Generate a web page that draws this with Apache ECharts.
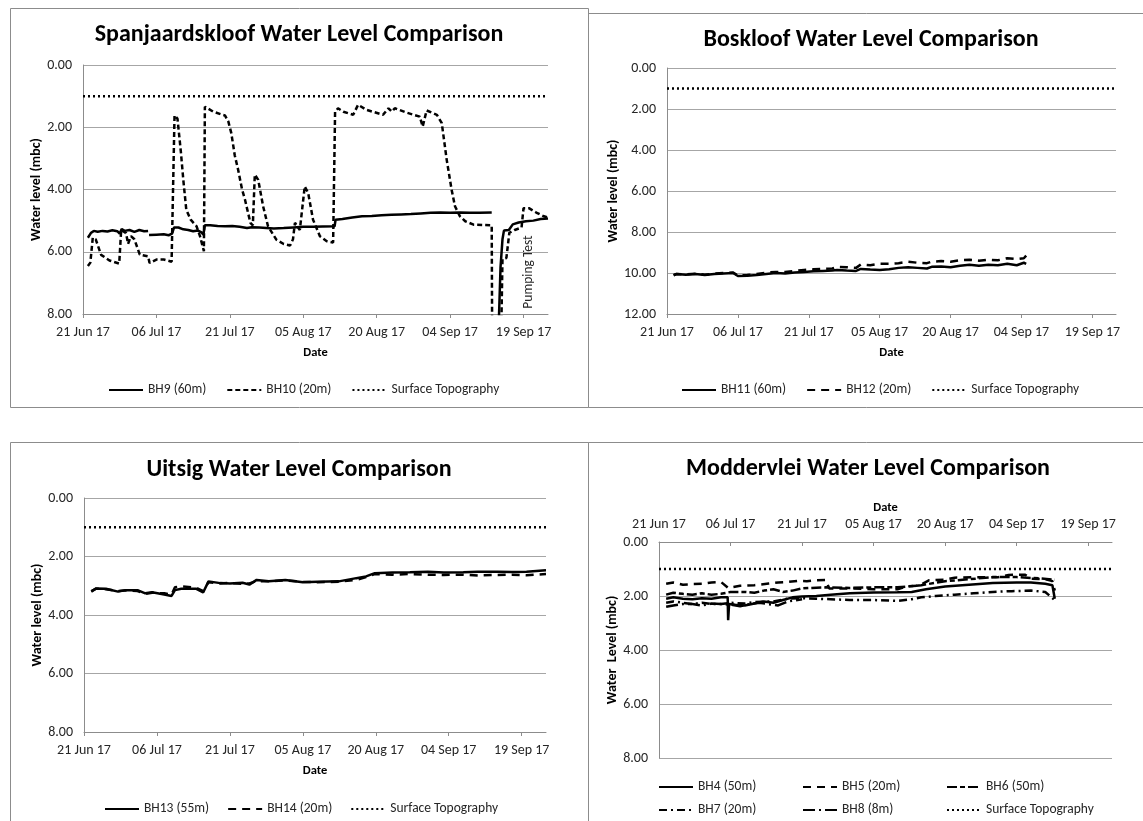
<!DOCTYPE html>
<html><head><meta charset="utf-8">
<script src="https://cdn.jsdelivr.net/npm/echarts@6/dist/echarts.min.js"></script>
<style>html,body{margin:0;padding:0;background:#fff}#c{width:1143px;height:821px}</style>
</head><body><div id="c"></div><script>
// ---------- shared axis data ----------
const tickLabels = ['21 Jun 17','06 Jul 17','21 Jul 17','05 Aug 17','20 Aug 17','04 Sep 17','19 Sep 17'];
const tickDays = [0,15,30,45,60,75,90];   // days since 21 Jun 17
const surfaceDays = [0, 95];
const surfaceLevel = [1.0, 1.0];

// ---------- Spanjaardskloof ----------
const bh9Days = [1.0,1.6,2.2,3.0,4.0,5.0,6.0,7.0,7.5,7.9,8.5,9.5,10.5,11.5,12.5,13.3,13.4,13.5,15,16.5,17.5,18.2,18.6,19.5,20.5,21.5,22.5,23.5,24.2,24.6,24.9,26,27.5,29,30.5,32,33.5,34.5,36,37.5,39,41,43,45,47,49,51.4,51.6,53,55,57,59,61,63,65,67,69,71,73,75,77,79,81,83.5,84,84.8,85.3,85.7,86.0,87.0,87.8,89,90.5,92,93.5,95];
const bh9Vals = [5.55,5.40,5.33,5.36,5.33,5.35,5.31,5.34,5.42,5.27,5.33,5.30,5.36,5.30,5.34,5.33,null,5.46,5.45,5.44,5.47,5.42,5.22,5.22,5.28,5.30,5.34,5.32,5.38,5.45,5.15,5.15,5.17,5.18,5.17,5.20,5.24,5.21,5.22,5.24,5.25,5.24,5.22,5.20,5.20,5.19,5.18,4.97,4.95,4.90,4.86,4.85,4.83,4.81,4.80,4.79,4.77,4.75,4.74,4.75,4.74,4.75,4.75,4.74,null,9.0,6.5,5.6,5.32,5.30,5.12,5.06,5.02,5.00,4.95,4.93];
const bh10Days = [1.0,1.5,2.0,2.6,3.7,5.4,7.4,7.8,8.8,9.2,9.8,10.5,11.6,13.3,13.6,15,16.5,18.1,18.7,19.3,20.0,20.5,21.1,22.0,22.4,23.2,23.9,24.7,24.9,26.6,28.5,29.0,29.7,30.3,31.0,31.7,32.5,33.1,34.2,34.7,35.1,35.8,36.8,37.8,39.5,41,42.3,42.9,43.3,44.3,45.3,46.0,47.0,48.4,49.8,51.1,51.4,51.5,52.1,53.2,55.2,56.2,57.9,61.3,62.4,63.1,63.7,66.1,68.8,69.4,70.2,72.3,73.3,74.3,75.3,76.0,77.0,78.1,79.8,83.5,83.6,85.4,85.7,86.5,87.1,88.2,89.6,90.0,91.1,92.6,94,95];
const bh10Vals = [6.46,6.35,5.55,5.60,6.10,6.28,6.38,5.30,5.40,5.75,5.50,5.60,6.09,6.15,6.36,6.25,6.25,6.32,1.62,1.72,2.80,3.70,4.65,4.97,4.95,5.18,5.50,5.98,1.34,1.50,1.60,1.62,1.82,2.19,2.90,3.37,4.00,4.33,5.07,5.15,3.52,3.69,4.54,5.18,5.61,5.75,5.80,5.60,5.07,5.30,3.90,4.11,4.97,5.50,5.66,5.70,5.70,1.50,1.39,1.50,1.60,1.28,1.44,1.60,1.39,1.50,1.39,1.53,1.66,1.98,1.46,1.60,1.87,3.04,4.00,4.54,4.86,5.02,5.13,5.15,9.0,9.0,6.24,6.20,5.39,5.30,5.22,4.60,4.60,4.74,4.85,4.90];

// ---------- Boskloof ----------
const bh11Days = [1.4,2,4,6,8,10,12,14,15,17,19,21,23,25,27,29,31,33,35,36,38,40,41,43,45,47,49,51,53,55,56,58,60,62,64,66,68,70,72,74,75.5,76];
const bh11Vals = [10.12,10.05,10.08,10.05,10.10,10.05,10.02,10.00,10.15,10.13,10.10,10.05,10.00,10.02,9.98,9.95,9.92,9.90,9.88,9.85,9.88,9.90,9.80,9.83,9.85,9.82,9.75,9.72,9.75,9.78,9.70,9.68,9.72,9.65,9.60,9.65,9.60,9.62,9.55,9.62,9.50,9.55];
const bh12Days = [1.4,2,4,6,8,10,12,14,15,17,19,21,23,25,27,29,31,33,35,36,38,40,41,43,45,47,49,51,53,55,56,58,60,62,64,66,68,70,72,74,75.5,76];
const bh12Vals = [10.10,10.05,10.06,10.04,10.08,10.03,10.00,9.98,10.12,10.10,10.05,9.98,9.95,9.95,9.90,9.85,9.82,9.80,9.78,9.70,9.72,9.75,9.58,9.62,9.55,9.55,9.52,9.45,9.50,9.52,9.45,9.42,9.45,9.38,9.35,9.40,9.35,9.38,9.28,9.32,9.28,9.15];

// ---------- Uitsig ----------
const bh13Days = [1.5,2.5,4.5,7,8.5,11,12.6,14,16.5,18,18.7,20,23,24.5,25.6,28,30,32.6,34,35.5,38,41.4,45,48,52.4,56,58,59.8,63.4,67,70.7,74,78,81,85,88,91,95];
const bh13Vals = [3.20,3.09,3.10,3.20,3.15,3.15,3.26,3.22,3.30,3.35,3.15,3.10,3.10,3.23,2.85,2.91,2.92,2.90,2.96,2.80,2.85,2.80,2.88,2.86,2.85,2.74,2.68,2.57,2.55,2.54,2.52,2.55,2.54,2.52,2.52,2.53,2.52,2.47];
const bh14Days = [1.5,2.5,4.5,7,8.5,11,12.6,14,16.5,18,18.7,20,23,24.5,25.6,28,30,32.6,34,35.5,38,41.4,45,48,52.4,56,58,59.8,63.4,67,70.7,74,78,81,85,88,91,95];
const bh14Vals = [3.18,3.10,3.12,3.18,3.16,3.18,3.28,3.24,3.26,3.30,3.05,3.02,3.06,3.18,2.88,2.92,2.90,2.94,2.92,2.84,2.85,2.82,2.86,2.88,2.86,2.80,2.70,2.60,2.62,2.60,2.62,2.63,2.62,2.65,2.63,2.62,2.64,2.60];

// ---------- Moddervlei ----------
const bh4Days = [1.5,3,5,7,9,11,13,14.4,14.5,14.7,16,18,20,22,24,26,28,30,33,36,40,45,50,53,56,60,65,70,75,78,81,82.5,83];
const bh4Vals = [2.10,2.05,2.10,2.12,2.08,2.10,2.05,2.05,2.90,2.30,2.32,2.35,2.28,2.20,2.25,2.15,2.05,2.02,2.00,1.95,1.90,1.87,1.86,1.85,1.75,1.65,1.58,1.52,1.50,1.50,1.55,1.60,2.10];
const bh5Days = [1.5,3,5,7,9,11,13,14.5,17,20,23,25,27,29,31,33,35,35.7,40,45,50,52,54.5,56.6,60,62,66,71,73.3,76.8,78,81,82.5,83];
const bh5Vals = [1.55,1.50,1.58,1.56,1.55,1.50,1.48,1.70,1.62,1.60,1.54,1.50,1.48,1.44,1.45,1.42,1.41,1.72,1.72,1.75,1.75,1.64,1.62,1.42,1.40,1.32,1.30,1.31,1.22,1.21,1.36,1.38,1.45,1.80];
const bh6Days = [1.5,3,5,7,9,11,13,15,18,20,22,24,26,28,30,32,35,40,45,50,55,60,65,70,75,80,83];
const bh6Vals = [1.95,1.88,1.92,1.95,1.90,1.95,1.92,1.85,1.85,1.88,1.80,1.75,1.85,1.80,1.72,1.70,1.68,1.70,1.68,1.68,1.60,1.45,1.38,1.30,1.30,1.35,1.40];
const bh7Days = [1.5,3,5,7,9,11,13,15,18,20,24,27,30,33,36,40,45,50,53,55,58,62,66,70,74,78,81,83];
const bh7Vals = [2.25,2.20,2.25,2.30,2.25,2.30,2.30,2.25,2.28,2.22,2.20,2.10,2.08,2.10,2.12,2.15,2.15,2.18,2.12,2.05,2.00,1.95,1.90,1.85,1.82,1.80,1.85,2.15];
const bh8Days = [1.5,3,5,7,9,11,13,15,17,19,21,23,25,27,30];
const bh8Vals = [2.40,2.35,2.30,2.30,2.35,2.28,2.30,2.32,2.38,2.30,2.25,2.30,2.35,2.20,2.12];

// ---------- build ----------
const FONT = 'Carlito, Lato, "Liberation Sans", sans-serif';
const GRID_C = '#a6a6a6', AXIS_C = '#8c8c8c', TXT = '#262626';
const zip = (xs, ys) => xs.map((x, i) => [x, ys[i]]);
const dateFmt = v => { const i = tickDays.indexOf(v); return i >= 0 ? tickLabels[i] : ''; };

function xAx(gi, pos, nameGap) {
  return {
    type: 'value', gridIndex: gi, min: 0, max: 95, position: pos,
    axisLine: { show: true, onZero: false, lineStyle: { color: AXIS_C } },
    axisTick: { show: true, customValues: tickDays, length: 4, inside: pos === 'top', lineStyle: { color: AXIS_C } },
    axisLabel: { customValues: tickDays, formatter: dateFmt, fontFamily: FONT, fontSize: 14, color: TXT, margin: 11 },
    splitLine: { show: false },
    name: 'Date', nameLocation: 'middle', nameGap: nameGap,
    nameTextStyle: { fontFamily: FONT, fontWeight: 'bold', fontSize: 12.5, color: '#000' }
  };
}
function yAx(gi, max, name, nameGap) {
  return {
    type: 'value', gridIndex: gi, inverse: true, min: 0, max: max, interval: 2,
    axisLine: { show: true, lineStyle: { color: AXIS_C } },
    axisTick: { show: false },
    axisLabel: { formatter: v => v.toFixed(2), fontFamily: FONT, fontSize: 14, color: TXT, margin: 11 },
    splitLine: { show: true, lineStyle: { color: GRID_C, width: 1 } },
    name: name, nameLocation: 'middle', nameGap: nameGap,
    nameTextStyle: { fontFamily: FONT, fontWeight: 'bold', fontSize: 14, color: '#000' }
  };
}
function ln(name, gi, xs, ys, dash, w) {
  return {
    type: 'line', name: name, xAxisIndex: gi, yAxisIndex: gi, data: zip(xs, ys),
    symbol: 'none', connectNulls: false, animation: false, clip: true,
    lineStyle: { color: '#000', width: w || 2.5, type: dash || 'solid', cap: 'butt' },
    itemStyle: { color: '#000' }
  };
}
const DOT = [2, 3], DASH10 = [5, 3], LDASH = [8, 6], DASHDASH = [10, 3, 5, 3], DASHDOT = [8, 4, 2, 4], LDASHDOT = [12, 4, 2, 4];

function legend(names, left, top, gap, orient) {
  return {
    data: names, left: left, top: top, itemGap: gap, itemWidth: 34, itemHeight: 16, padding: 0,
    selectedMode: false, orient: orient || 'horizontal',
    itemStyle: { opacity: 0 },
    textStyle: { fontFamily: FONT, fontSize: 13.5, color: TXT }
  };
}
function ttl(text, cx, top) {
  return { text: text, left: cx, top: top, textAlign: 'center', padding: 0,
    textStyle: { fontFamily: FONT, fontWeight: 'bold', fontSize: 24, color: '#000' } };
}
function box(x, y, w, h) {
  return { type: 'rect', silent: true, z: -10, shape: { x: x + 0.5, y: y + 0.5, width: w, height: h },
    style: { fill: 'none', stroke: AXIS_C, lineWidth: 1 } };
}

const option = {
  backgroundColor: '#fff',
  animation: false,
  title: [
    ttl('Spanjaardskloof Water Level Comparison', 299, 23),
    ttl('Boskloof Water Level Comparison', 871, 28),
    ttl('Uitsig Water Level Comparison', 299, 458),
    ttl('Moddervlei Water Level Comparison', 868, 457)
  ],
  grid: [
    { left: 83, top: 65, width: 465, height: 249 },
    { left: 667, top: 68, width: 449, height: 246 },
    { left: 84, top: 498, width: 462, height: 234 },
    { left: 659, top: 542, width: 453, height: 216 }
  ],
  xAxis: [xAx(0, 'bottom', 32), xAx(1, 'bottom', 32), xAx(2, 'bottom', 32), xAx(3, 'top', 28)],
  yAxis: [yAx(0, 8, 'Water level (mbc)', 37), yAx(1, 12, 'Water level (mbc)', 46), yAx(2, 8, 'Water level (mbc)', 38), yAx(3, 8, 'Water  Level (mbc)', 37)],
  legend: [
    legend(['BH9 (60m)', 'BH10 (20m)', 'Surface Topography'], 108, 383, 20),
    legend(['BH11 (60m)', 'BH12 (20m)', 'Surface Topography'], 681, 383, 20),
    legend(['BH13 (55m)', 'BH14 (20m)', 'Surface Topography'], 104, 802, 18),
    legend(['BH4 (50m)', 'BH7 (20m)'], 658, 780, 9, 'vertical'),
    legend(['BH5 (20m)', 'BH8 (8m)'], 802, 780, 9, 'vertical'),
    legend(['BH6 (50m)', 'Surface Topography'], 946, 780, 9, 'vertical')
  ],
  series: [
    ln('BH9 (60m)', 0, bh9Days, bh9Vals),
    ln('BH10 (20m)', 0, bh10Days, bh10Vals, DASH10),
    ln('Surface Topography', 0, surfaceDays, surfaceLevel, DOT),
    ln('BH11 (60m)', 1, bh11Days, bh11Vals),
    ln('BH12 (20m)', 1, bh12Days, bh12Vals, LDASH),
    ln('Surface Topography', 1, surfaceDays, surfaceLevel, DOT),
    ln('BH13 (55m)', 2, bh13Days, bh13Vals),
    ln('BH14 (20m)', 2, bh14Days, bh14Vals, LDASH),
    ln('Surface Topography', 2, surfaceDays, surfaceLevel, DOT),
    ln('BH4 (50m)', 3, bh4Days, bh4Vals),
    ln('BH5 (20m)', 3, bh5Days, bh5Vals, LDASH),
    ln('BH6 (50m)', 3, bh6Days, bh6Vals, DASHDASH),
    ln('BH7 (20m)', 3, bh7Days, bh7Vals, DASHDOT),
    ln('BH8 (8m)', 3, bh8Days, bh8Vals, LDASHDOT),
    ln('Surface Topography', 3, surfaceDays, surfaceLevel, DOT)
  ],
  graphic: [
    box(10, 8, 578, 399),
    box(588, 13, 600, 394),
    box(10, 442, 578, 420),
    box(588, 442, 600, 420),
    { type: 'text', silent: true, x: 529, y: 272, rotation: Math.PI / 2,
      style: { text: 'Pumping Test', font: '13.5px ' + FONT, fill: TXT, align: 'center', verticalAlign: 'middle' } }
  ]
};
const chart = echarts.init(document.getElementById('c'), null, { renderer: 'canvas' });
chart.setOption(option);
</script></body></html>
